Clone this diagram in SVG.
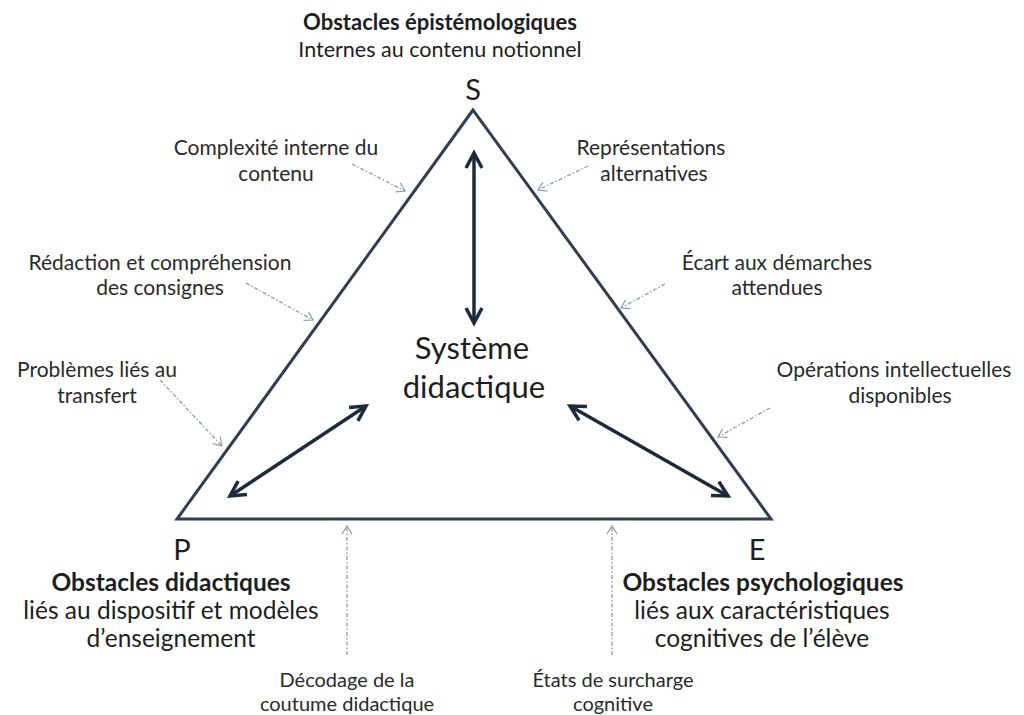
<svg xmlns="http://www.w3.org/2000/svg" width="1024" height="715" viewBox="0 0 1024 715">
<style>
text{font-family:Lato,"Open Sans","Liberation Sans",sans-serif;fill:#1e1e1e;text-anchor:middle}
.tt{font-size:21.5px}
.tb{font-size:22px;font-weight:bold}
.t{font-size:24.5px}
.b{font-size:24.5px;font-weight:bold}
.s{font-size:21px;fill:#2a2a2a}
.sb{font-size:20px;fill:#2a2a2a}
.v{font-size:29px}
.c{font-size:31px}
.tri{fill:none;stroke:#2f3e50;stroke-width:3;stroke-linejoin:miter}
.main{stroke:#1c2a3c;stroke-width:3.5;fill:none}
.ann{stroke:#8e9cae;stroke-width:1.3;fill:none;stroke-dasharray:4 2 1.5 2}
</style>
<defs>
<marker id="hm" viewBox="0 0 12 12" refX="10" refY="6" markerWidth="12" markerHeight="12" markerUnits="userSpaceOnUse" orient="auto-start-reverse" overflow="visible">
<path d="M-5,-2 L10,6 L-5,14" fill="none" stroke="#1c2a3c" stroke-width="3.5" stroke-linejoin="miter"/>
</marker>
<marker id="ha" viewBox="0 0 10 10" refX="9" refY="5" markerWidth="10" markerHeight="10" markerUnits="userSpaceOnUse" orient="auto" overflow="visible">
<path d="M1,0 L9,5 L1,10" fill="none" stroke="#8e9cae" stroke-width="1.2"/>
</marker>
</defs>
<rect width="1024" height="715" fill="#ffffff"/>
<g id="triangle">
<polygon class="tri" points="473,110 177,519 771,519"/>
</g>
<g id="connectors">
<line class="main" x1="474" y1="153" x2="474" y2="323" marker-start="url(#hm)" marker-end="url(#hm)"/>
<line class="main" x1="230" y1="496" x2="366" y2="406" marker-start="url(#hm)" marker-end="url(#hm)"/>
<line class="main" x1="570" y1="406" x2="728" y2="496" marker-start="url(#hm)" marker-end="url(#hm)"/>
<line class="ann" x1="352" y1="164" x2="405" y2="191" marker-end="url(#ha)"/>
<line class="ann" x1="246" y1="283" x2="313" y2="320" marker-end="url(#ha)"/>
<line class="ann" x1="160" y1="380" x2="222" y2="446" marker-end="url(#ha)"/>
<line class="ann" x1="588" y1="166" x2="538" y2="190" marker-end="url(#ha)"/>
<line class="ann" x1="665" y1="284" x2="621" y2="308" marker-end="url(#ha)"/>
<line class="ann" x1="770" y1="408" x2="718" y2="437" marker-end="url(#ha)"/>
<line class="ann" x1="347" y1="655" x2="347" y2="526" marker-end="url(#ha)"/>
<line class="ann" x1="612" y1="655" x2="612" y2="526" marker-end="url(#ha)"/>
</g>
<g id="node-S">
<text class="tb" x="440" y="30">Obstacles épistémologiques</text>
<text class="tt" x="440" y="57">Internes au contenu notionnel</text>
<text class="v" x="473" y="100">S</text>
</g>
<g id="node-P">
<text class="v" x="182" y="560">P</text>
<text class="b" x="171" y="591">Obstacles didactiques</text>
<text class="t" x="171" y="619">liés au dispositif et modèles</text>
<text class="t" x="171" y="647">d’enseignement</text>
</g>
<g id="node-E">
<text class="v" x="757" y="560">E</text>
<text class="b" x="763" y="591">Obstacles psychologiques</text>
<text class="t" x="762" y="619">liés aux caractéristiques</text>
<text class="t" x="762" y="647">cognitives de l’élève</text>
</g>
<g id="node-center">
<text class="c" x="472" y="359">Système</text>
<text class="c" x="474" y="398">didactique</text>
</g>
<g id="label-complexite">
<text class="s" x="276" y="155">Complexité interne du</text>
<text class="s" x="276" y="181">contenu</text>
</g>
<g id="label-representations">
<text class="s" x="651" y="155">Représentations</text>
<text class="s" x="654" y="181">alternatives</text>
</g>
<g id="label-redaction">
<text class="s" x="160" y="270">Rédaction et compréhension</text>
<text class="s" x="160" y="295">des consignes</text>
</g>
<g id="label-ecart">
<text class="s" x="777" y="270">Écart aux démarches</text>
<text class="s" x="777" y="295">attendues</text>
</g>
<g id="label-transfert">
<text class="s" x="97" y="377">Problèmes liés au</text>
<text class="s" x="97" y="403">transfert</text>
</g>
<g id="label-operations">
<text class="s" x="894" y="377">Opérations intellectuelles</text>
<text class="s" x="900" y="403">disponibles</text>
</g>
<g id="label-decodage">
<text class="sb" x="347" y="687">Décodage de la</text>
<text class="sb" x="347" y="711">coutume  didactique</text>
</g>
<g id="label-surcharge">
<text class="sb" x="613" y="687">États de surcharge</text>
<text class="sb" x="613" y="711">cognitive</text>
</g>
</svg>
